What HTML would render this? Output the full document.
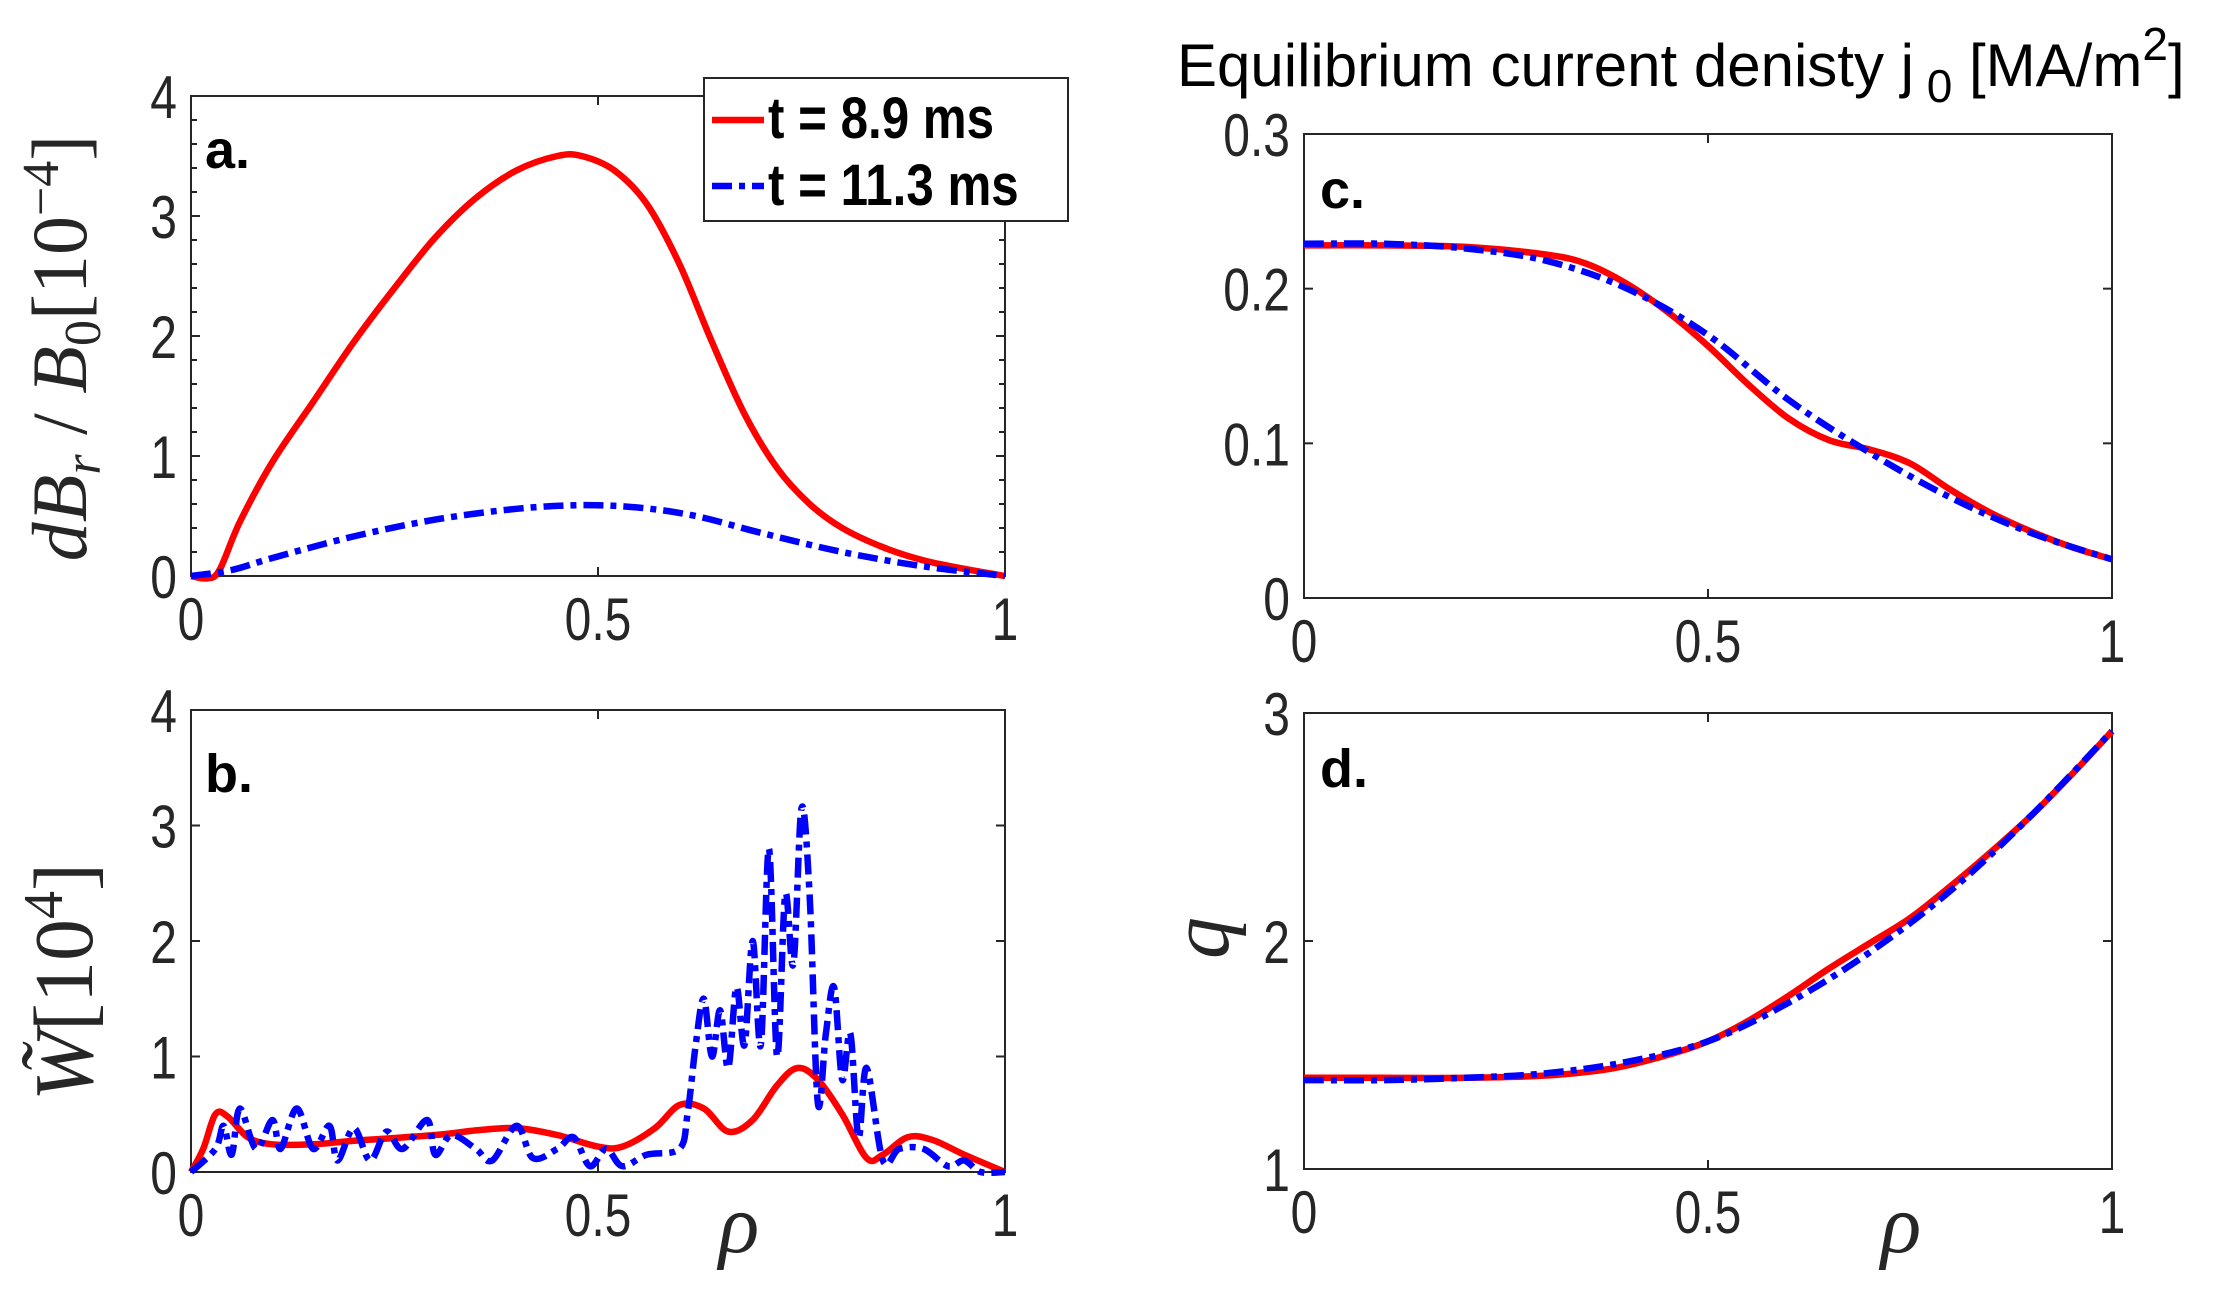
<!DOCTYPE html>
<html><head><meta charset="utf-8"><style>
html,body{margin:0;padding:0;background:#fff;}
svg{display:block;}
text{font-family:"Liberation Sans",sans-serif;}
.tk{font-size:60px;fill:#262626;}
.pl{font-size:54px;font-weight:bold;fill:#000;}
.mt{font-family:"Liberation Serif",serif;font-style:italic;fill:#262626;}
</style></head><body>
<svg id="s" width="2217" height="1292" viewBox="0 0 2217 1292" xmlns="http://www.w3.org/2000/svg">
<g id="g"></g>
</svg>
<script>
const NS="http://www.w3.org/2000/svg";
const g=document.getElementById('g');
function el(t,a,txt){const e=document.createElementNS(NS,t);for(const k in a)e.setAttribute(k,a[k]);if(txt!==undefined)e.textContent=txt;g.appendChild(e);return e;}
function tk(x,y,s,anchor){el('text',{transform:`translate(${x},${y}) scale(0.8,1)`,'text-anchor':anchor,class:'tk'},s);}
function cr(pts){let d="M"+pts[0][0].toFixed(1)+","+pts[0][1].toFixed(1);
for(let i=0;i<pts.length-1;i++){const p0=pts[Math.max(0,i-1)],p1=pts[i],p2=pts[i+1],p3=pts[Math.min(pts.length-1,i+2)];
const c1=[p1[0]+(p2[0]-p0[0])/6,p1[1]+(p2[1]-p0[1])/6],c2=[p2[0]-(p3[0]-p1[0])/6,p2[1]-(p3[1]-p1[1])/6];
d+="C"+c1[0].toFixed(1)+","+c1[1].toFixed(1)+" "+c2[0].toFixed(1)+","+c2[1].toFixed(1)+" "+p2[0].toFixed(1)+","+p2[1].toFixed(1);}return d;}
function panel(L,R,T,B,y0,y1,yt,minor){
 const X=v=>L+(R-L)*v, Y=v=>B-(B-T)*(v-y0)/(y1-y0);
 el('rect',{x:L,y:T,width:R-L,height:B-T,fill:'none',stroke:'#262626','stroke-width':2});
 [0,0.5,1].forEach(v=>{el('line',{x1:X(v),x2:X(v),y1:B,y2:B-9,stroke:'#262626','stroke-width':2});el('line',{x1:X(v),x2:X(v),y1:T,y2:T+9,stroke:'#262626','stroke-width':2});
  tk(X(v),B+64,String(v),'middle');});
 yt.forEach(v=>{el('line',{x1:L,x2:L+9,y1:Y(v),y2:Y(v),stroke:'#262626','stroke-width':2});el('line',{x1:R,x2:R-9,y1:Y(v),y2:Y(v),stroke:'#262626','stroke-width':2});
  tk(L-14,Y(v)+22,String(v),'end');});
 if(minor){for(let v=y0;v<=y1+1e-9;v+=minor){el('line',{x1:L,x2:L+6,y1:Y(v),y2:Y(v),stroke:'#262626','stroke-width':2});el('line',{x1:R,x2:R-6,y1:Y(v),y2:Y(v),stroke:'#262626','stroke-width':2});}}
 return {X,Y};
}
function curve(p,data,col,dash){const pts=data.map(d=>[p.X(d[0]),p.Y(d[1])]);
 const a={d:cr(pts),fill:'none',stroke:col,'stroke-width':6.5,'stroke-linejoin':'round'};if(dash)a['stroke-dasharray']='20 7 6 7';el('path',a);}
const pa=panel(191,1005,96,576,0,4,[0,1,2,3,4],0.2);
curve(pa,[[0,0],[0.02,-0.02],[0.035,0.05],[0.06,0.45],[0.1,0.95],[0.15,1.45],[0.2,1.95],[0.25,2.4],[0.3,2.82],[0.35,3.15],[0.4,3.38],[0.45,3.5],[0.48,3.5],[0.52,3.38],[0.56,3.1],[0.6,2.6],[0.64,1.95],[0.68,1.35],[0.72,0.9],[0.76,0.6],[0.8,0.4],[0.85,0.24],[0.9,0.13],[0.95,0.06],[1,0]],'#ff0000');
curve(pa,[[0,0],[0.05,0.05],[0.1,0.15],[0.2,0.33],[0.3,0.47],[0.4,0.56],[0.48,0.59],[0.55,0.57],[0.62,0.5],[0.7,0.36],[0.8,0.2],[0.9,0.08],[1,0]],'#0000ff',1);
el('rect',{x:704,y:78,width:364,height:143,fill:'#fff',stroke:'#262626','stroke-width':2});
el('line',{x1:712,x2:764,y1:120,y2:120,stroke:'#ff0000','stroke-width':6.5});
el('line',{x1:712,x2:764,y1:186,y2:186,stroke:'#0000ff','stroke-width':6.5,'stroke-dasharray':'20 7 6 7'});
el('text',{transform:'translate(768,138) scale(0.85,1)',style:'font-size:58px;font-weight:bold'},'t = 8.9 ms');
el('text',{transform:'translate(768,205) scale(0.85,1)',style:'font-size:58px;font-weight:bold'},'t = 11.3 ms');
el('text',{x:205,y:168,class:'pl'},'a.');
el('text',{x:0,y:0,transform:'translate(86,348) rotate(-90)','text-anchor':'middle',class:'mt',style:'font-size:78px'},'').innerHTML='dB<tspan font-size="52" dy="14">r</tspan><tspan dy="-14" font-style="normal"> / </tspan>B<tspan font-size="52" dy="14" font-style="normal">0</tspan><tspan dy="-14" font-style="normal">[10</tspan><tspan font-size="52" dy="-28" font-style="normal">−4</tspan><tspan dy="28" font-style="normal">]</tspan>';
const pb=panel(191,1005,710,1172,0,4,[0,1,2,3,4],0);
curve(pb,[[0,0],[0.015,0.2],[0.03,0.5],[0.045,0.48],[0.07,0.3],[0.1,0.24],[0.15,0.24],[0.2,0.27],[0.3,0.32],[0.35,0.36],[0.4,0.38],[0.45,0.32],[0.5,0.22],[0.53,0.22],[0.57,0.38],[0.6,0.58],[0.63,0.55],[0.66,0.35],[0.69,0.45],[0.72,0.75],[0.745,0.9],[0.77,0.8],[0.8,0.5],[0.83,0.12],[0.85,0.15],[0.88,0.3],[0.91,0.28],[0.95,0.15],[1,0]],'#ff0000');
curve(pb,[[0,0],[0.03,0.2],[0.04,0.4],[0.05,0.15],[0.06,0.55],[0.08,0.2],[0.1,0.45],[0.11,0.2],[0.13,0.55],[0.15,0.2],[0.17,0.4],[0.18,0.1],[0.2,0.38],[0.22,0.1],[0.24,0.35],[0.26,0.2],[0.29,0.45],[0.3,0.15],[0.32,0.32],[0.35,0.2],[0.37,0.1],[0.4,0.4],[0.42,0.12],[0.45,0.2],[0.47,0.3],[0.49,0.05],[0.51,0.2],[0.53,0.05],[0.56,0.15],[0.6,0.2],[0.61,0.5],[0.62,1.1],[0.63,1.5],[0.64,1.0],[0.65,1.4],[0.66,0.9],[0.67,1.6],[0.68,1.1],[0.69,2.0],[0.7,1.1],[0.71,2.8],[0.72,1.0],[0.73,2.4],[0.74,1.8],[0.75,3.15],[0.76,2.4],[0.77,0.6],[0.78,1.2],[0.79,1.6],[0.8,0.8],[0.81,1.2],[0.82,0.3],[0.83,0.9],[0.85,0.1],[0.87,0.2],[0.9,0.2],[0.93,0.05],[0.95,0.1],[0.97,0],[1,0]],'#0000ff',1);
el('text',{x:205,y:792,class:'pl'},'b.');
el('text',{x:0,y:0,transform:'translate(92,982) rotate(-90)','text-anchor':'middle',class:'mt',style:'font-size:84px'},'').innerHTML='W̃<tspan font-style="normal">[10</tspan><tspan font-size="56" dy="-30" font-style="normal">4</tspan><tspan dy="30" font-style="normal">]</tspan>';
el('text',{x:739,y:1252,'text-anchor':'middle',class:'mt',style:'font-size:84px'},'ρ');
const pc=panel(1304,2112,134,598,0,0.3,[0,0.1,0.2,0.3],0);
curve(pc,[[0,0.228],[0.1,0.228],[0.2,0.227],[0.3,0.222],[0.35,0.216],[0.4,0.203],[0.45,0.185],[0.5,0.163],[0.55,0.138],[0.6,0.116],[0.65,0.102],[0.7,0.096],[0.75,0.087],[0.8,0.07],[0.85,0.055],[0.9,0.043],[0.95,0.033],[1,0.025]],'#ff0000');
curve(pc,[[0,0.229],[0.1,0.229],[0.2,0.226],[0.3,0.218],[0.4,0.2],[0.5,0.17],[0.6,0.128],[0.7,0.094],[0.8,0.065],[0.9,0.042],[1,0.025]],'#0000ff',1);
el('text',{x:1320,y:208,class:'pl'},'c.');
el('text',{x:1177,y:86,style:'font-size:60px;fill:#000'},'').innerHTML='Equilibrium current denisty j<tspan font-size="46" dy="16"> 0</tspan><tspan dy="-16"> [MA/m</tspan><tspan font-size="46" dy="-26">2</tspan><tspan dy="26">]</tspan>';
const pd=panel(1304,2112,713,1169,1,3,[1,2,3],0);
curve(pd,[[0,1.4],[0.1,1.4],[0.2,1.4],[0.3,1.41],[0.38,1.44],[0.45,1.5],[0.5,1.56],[0.55,1.65],[0.6,1.76],[0.65,1.88],[0.7,1.99],[0.75,2.1],[0.8,2.24],[0.85,2.39],[0.9,2.55],[0.95,2.73],[1,2.92]],'#ff0000');
curve(pd,[[0,1.39],[0.1,1.39],[0.2,1.4],[0.3,1.42],[0.4,1.47],[0.5,1.56],[0.6,1.73],[0.7,1.95],[0.8,2.22],[0.9,2.55],[1,2.92]],'#0000ff',1);
el('text',{x:1320,y:787,class:'pl'},'d.');
el('text',{x:0,y:0,transform:'translate(1228,938) rotate(-90)','text-anchor':'middle',class:'mt',style:'font-size:84px'},'q');
el('text',{x:1901,y:1252,'text-anchor':'middle',class:'mt',style:'font-size:84px'},'ρ');
</script>
</body></html>
